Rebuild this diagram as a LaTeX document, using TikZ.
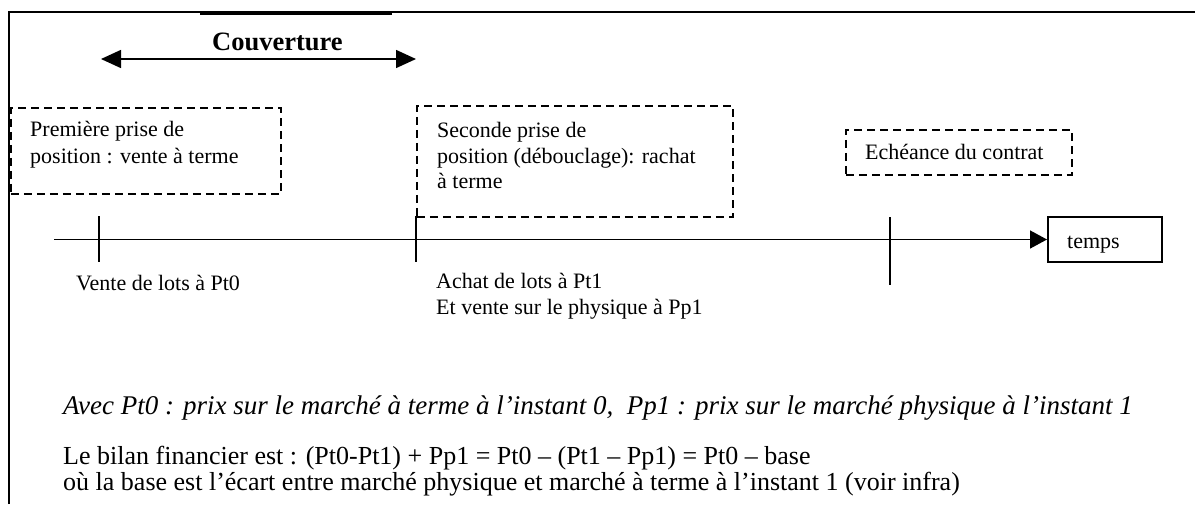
\documentclass[tikz,border=0pt]{standalone}
\usepackage{fontspec}
\setmainfont{Liberation Serif}
\usetikzlibrary{arrows.meta}
\begin{document}
\begin{tikzpicture}[x=1pt,y=-1pt,
  txt/.style={anchor=base west,inner sep=0pt,font=\fontsize{22}{26}\selectfont},
  btxt/.style={anchor=base west,inner sep=0pt,font=\fontsize{26}{28}\selectfont},
  itxt/.style={anchor=base west,inner sep=0pt,font=\fontsize{27}{28}\selectfont\itshape},
  dbox/.style={draw,dash pattern=on 8pt off 5pt,line width=1.5pt,anchor=north west,inner sep=0pt},
  sline/.style={line width=1.5pt},
  tick/.style={line width=1.5pt}]
\useasboundingbox (0,0) rectangle (1195,504);
\fill[white] (0,0) rectangle (1195,504);
% frame
\draw[sline] (9,504) -- (9,12) -- (1195,12);
\draw[line width=2.4pt] (200,13.3) -- (392,13.3);
% Couverture
\node[anchor=base west,inner sep=0pt,font=\fontsize{26.5}{30}\selectfont\bfseries] (couv) at (212,50) {Couverture};
\coordinate (cl) at (101,59);
\coordinate (cr) at (416,59);
\draw[sline,{Triangle[length=20pt,width=18pt]}-{Triangle[length=20pt,width=18pt]}] (cl) -- (cr);
% dashed boxes
\node[dbox,minimum width=270pt,minimum height=86pt] (b1) at (10,107) {};
\node[dbox,minimum width=316pt,minimum height=111pt] (b2) at (416,105) {};
\node[dbox,minimum width=226pt,minimum height=45pt] (b3) at (845,129) {};
\node[txt] (b1a) at (30,136) {Première prise de};
\node[txt] (b1b) at (30,163) {position : vente à terme};
\node[txt] (b2a) at (437,137) {Seconde prise de};
\node[txt] (b2b) at (437,163) {position (débouclage): rachat};
\node[txt] (b2c) at (437,188) {à terme};
\node[txt] (b3a) at (865,159) {Echéance du contrat};
% timeline
\node[draw,line width=1.5pt,minimum width=114pt,minimum height=45pt,anchor=west,inner sep=0pt] (temps) at (1047,239.5) {};
\node[txt] (tempstxt) at (1067,248) {temps};
\coordinate (t0) at (54,239.5);
\draw[sline,-{Triangle[length=17pt,width=18pt]}] (t0) -- (temps.west);
\draw[tick] (99,216) -- (99,262);
\draw[tick] (416,216) -- (416,262);
\draw[tick] (890,217) -- (890,285);
\node[txt] (l0) at (76,290) {Vente de lots à Pt0};
\node[txt] (l1) at (436,288) {Achat de lots à Pt1};
\node[txt] (l2) at (436,314) {Et vente sur le physique à Pp1};
% bottom texts
\node[itxt] (note) at (63,414) {Avec Pt0 : prix sur le marché à terme à l’instant 0,\ \ Pp1 : prix sur le marché physique à l’instant 1};
\node[btxt] (bil1) at (63,464) {Le bilan financier est : (Pt0-Pt1) + Pp1 = Pt0 – (Pt1 – Pp1) = Pt0 – base};
\node[btxt] (bil2) at (63,490) {où la base est l’écart entre marché physique et marché à terme à l’instant 1 (voir infra)};
\end{tikzpicture}
\end{document}
